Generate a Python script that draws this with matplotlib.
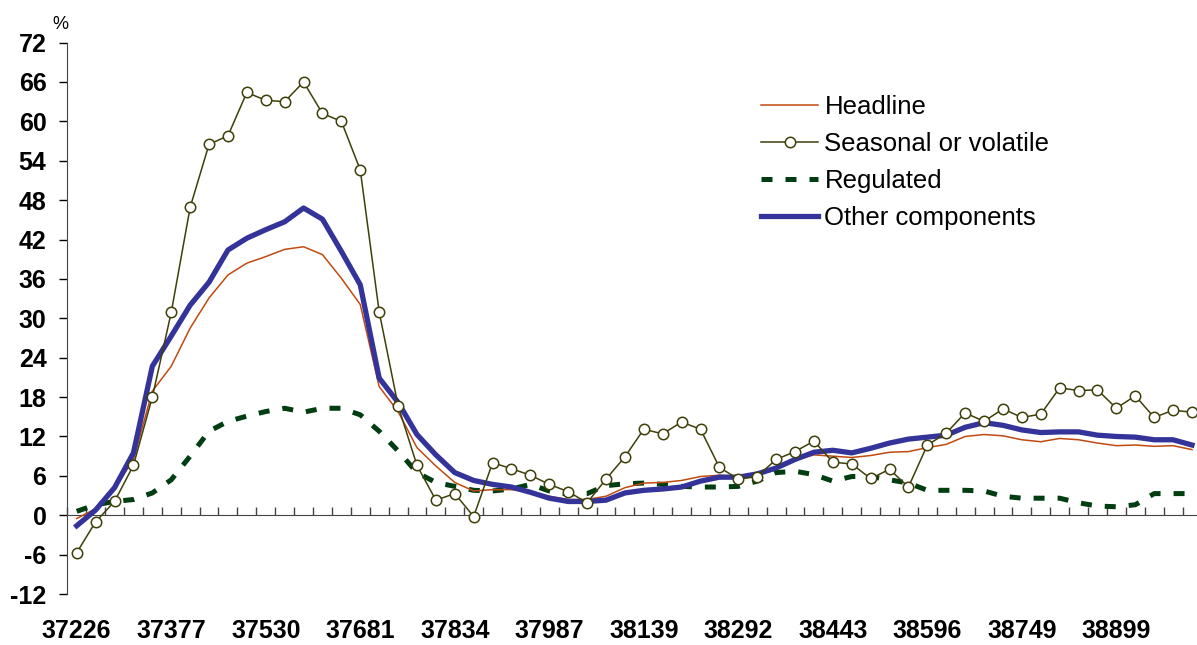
import matplotlib
matplotlib.use("Agg")
from matplotlib import pyplot as plt
import numpy as np

plt.rcParams['font.family'] = ['Liberation Sans', 'DejaVu Sans']

# monthly observations, Excel date serials shown every 5 months
tick_labels = ['37226', '37377', '37530', '37681', '37834', '37987',
               '38139', '38292', '38443', '38596', '38749', '38899']

headline = [-0.5, 1.0, 4.0, 8.5, 18.9, 22.7, 28.5, 33.1, 36.6, 38.4,
            39.4, 40.5, 40.9, 39.7, 36.1, 32.1, 19.6, 15.8, 10.3, 7.5,
            5.0, 3.7, 3.9, 3.9, 3.5, 2.9, 2.4, 2.4, 2.9, 4.2,
            4.9, 5.0, 5.3, 5.9, 6.1, 5.9, 6.0, 7.2, 8.4, 9.2,
            9.0, 8.8, 9.1, 9.6, 9.7, 10.3, 10.8, 12.0, 12.3, 12.1,
            11.5, 11.2, 11.7, 11.5, 11.0, 10.6, 10.7, 10.5, 10.6, 10.0]

seasonal = [-5.7, -1.0, 2.1, 7.6, 18.0, 30.9, 46.9, 56.5, 57.8, 64.4,
            63.2, 63.0, 66.0, 61.2, 60.0, 52.6, 31.0, 16.7, 7.6, 2.3,
            3.3, -0.2, 8.0, 7.1, 6.1, 4.7, 3.6, 1.9, 5.5, 8.9,
            13.1, 12.4, 14.2, 13.1, 7.3, 5.5, 5.9, 8.5, 9.7, 11.3,
            8.1, 7.8, 5.6, 7.0, 4.3, 10.7, 12.5, 15.6, 14.3, 16.2,
            14.9, 15.4, 19.4, 19.0, 19.1, 16.3, 18.2, 14.9, 16.0, 15.7]

regulated = [0.6, 1.6, 2.1, 2.4, 3.4, 5.4, 9.0, 12.8, 14.3, 15.1,
             15.8, 16.3, 15.7, 16.3, 16.3, 15.3, 12.8, 9.8, 6.5, 5.0,
             4.4, 3.8, 3.7, 4.0, 4.7, 3.7, 3.2, 3.3, 4.5, 4.8,
             4.9, 4.7, 4.4, 4.3, 4.3, 4.4, 5.2, 6.5, 6.7, 6.2,
             5.2, 5.9, 5.9, 5.4, 4.9, 3.8, 3.8, 3.8, 3.7, 2.9,
             2.6, 2.6, 2.6, 1.9, 1.4, 1.3, 1.6, 3.3, 3.3, 3.3]

other = [-1.6, 0.8, 4.2, 9.5, 22.7, 27.3, 32.0, 35.5, 40.4, 42.2,
         43.5, 44.7, 46.8, 45.1, 40.2, 35.1, 20.9, 17.2, 12.3, 9.2,
         6.5, 5.3, 4.7, 4.3, 3.5, 2.6, 2.1, 2.1, 2.3, 3.4,
         3.8, 4.0, 4.3, 5.2, 5.8, 5.8, 6.3, 7.2, 8.5, 9.6,
         9.9, 9.5, 10.2, 11.0, 11.6, 11.9, 12.2, 13.4, 14.1, 13.7,
         13.0, 12.6, 12.7, 12.7, 12.2, 12.0, 11.9, 11.5, 11.5, 10.7]

x = np.arange(len(headline))

fig = plt.figure(figsize=(11.97, 6.45), dpi=100)
ax = fig.add_axes([0.0562, 0.079, 0.9475, 0.855])

l_head, = ax.plot(x, headline, color='#C04A10', lw=1.1, zorder=3, label='Headline')
l_seas, = ax.plot(x, seasonal, color='#3F3F0A', lw=1.1, marker='o', ms=7.5,
                  mfc='white', mec='#3F3F0A', mew=1.1, zorder=5,
                  label='Seasonal or volatile')
l_reg, = ax.plot(x, regulated, color='#003D10', lw=3.6, dashes=(2.2, 2.6),
                 zorder=2, label='Regulated')
l_oth, = ax.plot(x, other, color='#333399', lw=3.8, zorder=4,
                 label='Other components')

ax.set_xlim(-0.5, len(x) - 0.5)
ax.set_ylim(-12, 72)
yt = np.arange(-12, 73, 6)
ax.set_yticks(yt)
ax.set_yticklabels([str(v) for v in yt], fontsize=18, fontweight='bold')
ax.tick_params(axis='y', direction='out', length=6, width=1, pad=9)

ax.spines['top'].set_visible(False)
ax.spines['right'].set_visible(False)
ax.spines['left'].set_color('#444444')
ax.spines['bottom'].set_position(('data', 0))
ax.spines['bottom'].set_color('#444444')

ax.set_xticks(x[::5])
ax.set_xticklabels(tick_labels, fontsize=18, fontweight='bold')
ax.set_xticks(np.arange(-0.5, len(x), 1), minor=True)
ax.tick_params(axis='x', which='major', length=0, pad=75)
ax.tick_params(axis='x', which='minor', direction='in', length=6, width=1,
               color='#444444')

fig.text(0.044, 0.955, '%', fontsize=13)

ax.legend(handles=[l_head, l_seas, l_reg, l_oth], loc='upper left',
          bbox_to_anchor=(0.603, 0.923), frameon=False, fontsize=18.5,
          handlelength=2.2, handletextpad=0.25, labelspacing=0.5,
          borderaxespad=0)

fig.savefig('out.png', dpi=100)
